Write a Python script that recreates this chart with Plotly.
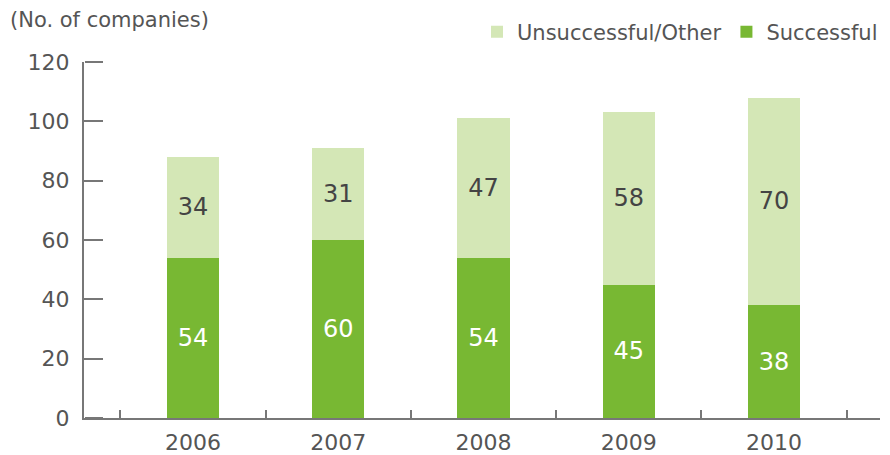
import plotly.graph_objects as go

years = ["2006", "2007", "2008", "2009", "2010"]
successful = [54, 60, 54, 45, 38]
unsuccessful = [34, 31, 47, 58, 70]
y_ticks = [0, 20, 40, 60, 80, 100, 120]

FONT = "DejaVu Sans"
DARK = "#78b833"
LIGHT = "#d4e7b6"
AXIS = "#777777"
TXT = "#555555"

xpos = list(range(len(years)))

fig = go.Figure()
fig.add_trace(go.Bar(
    x=xpos, y=successful, name="Successful", marker=dict(color=DARK, line=dict(width=0)),
    text=[str(v) for v in successful], textposition="inside", insidetextanchor="middle",
    textfont=dict(color="white", size=24, family=FONT), width=0.36,
))
fig.add_trace(go.Bar(
    x=xpos, y=unsuccessful, name="Unsuccessful/Other", marker=dict(color=LIGHT, line=dict(width=0)),
    text=[str(v) for v in unsuccessful], textposition="inside", insidetextanchor="middle",
    textfont=dict(color="#444444", size=24, family=FONT), width=0.36,
))
# invisible trace so the tick-only overlay axis is rendered
fig.add_trace(go.Scatter(x=[xpos[0]], y=[0], yaxis="y2", mode="markers",
                         marker=dict(opacity=0), showlegend=False, hoverinfo="skip"))

fig.update_layout(
    barmode="stack",
    width=890, height=455,
    margin=dict(l=84, r=10, t=62, b=37, autoexpand=False),
    paper_bgcolor="white", plot_bgcolor="white",
    font=dict(family=FONT, size=21, color=TXT),
    uniformtext=dict(minsize=8, mode="show"),
    showlegend=True,
    legend=dict(orientation="h", traceorder="reversed", x=1.0 - 7/890, xanchor="right", xref="container",
                y=1 - 32/455, yanchor="middle", yref="container", font=dict(size=21, color=TXT),
                itemsizing="constant", itemwidth=30, bgcolor="rgba(0,0,0,0)"),
    xaxis=dict(
        range=[-0.75, 4.73], showgrid=False, zeroline=False,
        showline=True, linecolor=AXIS, linewidth=2,
        tickmode="array", tickvals=xpos, ticktext=years, ticks="",
        tickfont=dict(size=22, color=TXT), ticklabelstandoff=4,
        minor=dict(tickmode="array", tickvals=[i - 0.5 for i in range(len(years) + 1)],
                   ticks="inside", ticklen=8, tickwidth=2, tickcolor=AXIS, showgrid=False),
    ),
    yaxis=dict(
        range=[0, 120], showgrid=False, zeroline=False,
        showline=True, linecolor=AXIS, linewidth=2,
        tickmode="array", tickvals=y_ticks,
        ticks="inside", ticklen=18, tickwidth=2, tickcolor=AXIS,
        tickfont=dict(size=22, color=TXT), ticklabelstandoff=8,
    ),
    yaxis2=dict(
        overlaying="y", anchor="free", position=0, side="right", matches="y",
        range=[0, 120], showgrid=False, zeroline=False, showline=False,
        tickmode="array", tickvals=y_ticks, showticklabels=False,
        ticks="outside", ticklen=18, tickwidth=2, tickcolor=AXIS,
    ),
    annotations=[dict(text="(No. of companies)", xref="paper", yref="paper",
                      x=-84/796 + 8/796, y=1 + 42/356, xanchor="left", yanchor="middle",
                      showarrow=False, font=dict(size=21, color=TXT))],
)

fig.write_html("out.html")
